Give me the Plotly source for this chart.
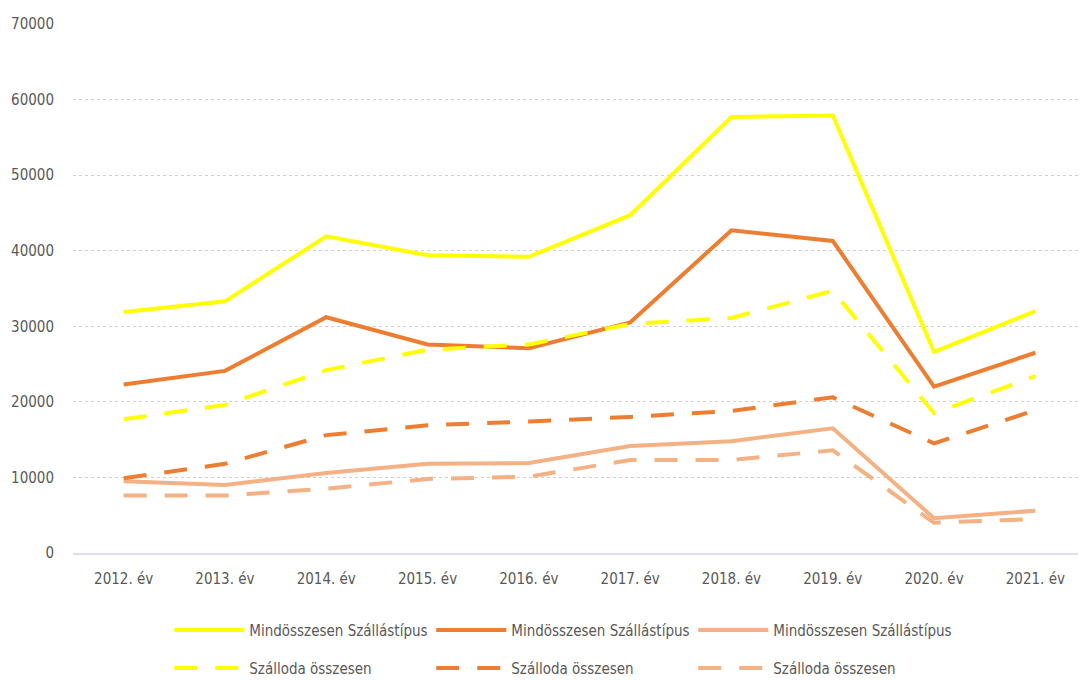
import plotly.graph_objects as go

years = ["2012. év", "2013. év", "2014. év", "2015. év", "2016. év",
         "2017. év", "2018. év", "2019. év", "2020. év", "2021. év"]

total_a = [31900, 33300, 41900, 39400, 39200, 44700, 57700, 57900, 26600, 32000]
total_b = [22300, 24100, 31200, 27600, 27100, 30500, 42700, 41300, 22000, 26500]
total_c = [9500, 9000, 10600, 11800, 11900, 14150, 14800, 16500, 4600, 5600]
hotel_a = [17700, 19600, 24200, 26900, 27600, 30300, 31100, 34700, 18500, 23400]
hotel_b = [9900, 11800, 15600, 16900, 17400, 18000, 18800, 20600, 14500, 18900]
hotel_c = [7600, 7600, 8500, 9800, 10100, 12300, 12300, 13600, 4000, 4500]

YELLOW = "#FFFF00"
ORANGE = "#ED7D31"
PEACH = "#F4B183"
TEXT = "#595959"
FONT = "DejaVu Sans Condensed, sans-serif"
DASH = "23px,18px"

# solid totals go in the first legend row, hotel dashes in the second
series = [
    ("Mindösszesen Szállástípus", total_a, YELLOW, "solid", "legend"),
    ("Mindösszesen Szállástípus", total_b, ORANGE, "solid", "legend"),
    ("Mindösszesen Szállástípus", total_c, PEACH, "solid", "legend"),
    ("Szálloda összesen", hotel_a, YELLOW, DASH, "legend2"),
    ("Szálloda összesen", hotel_b, ORANGE, DASH, "legend2"),
    ("Szálloda összesen", hotel_c, PEACH, DASH, "legend2"),
]

fig = go.Figure()
for name, vals, color, dash, leg in series:
    fig.add_trace(go.Scatter(
        x=years, y=vals, name=name, mode="lines", legend=leg,
        line=dict(color=color, width=4, dash=dash),
    ))

legend_style = dict(
    orientation="h", x=0.095, xanchor="left", yanchor="middle",
    entrywidth=177, entrywidthmode="pixels", itemwidth=70,
    font=dict(family=FONT, size=15, color=TEXT),
)

# the page body adds an 8px margin, so the figure is 8px smaller on each side
fig.update_layout(
    width=1078, height=672,
    plot_bgcolor="white", paper_bgcolor="white",
    font=dict(family=FONT, size=15, color=TEXT),
    margin=dict(l=65, r=0, t=16, b=127, autoexpand=False),
    legend=dict(legend_style, y=-0.146),
    legend2=dict(legend_style, y=-0.218),
)
fig.update_yaxes(
    range=[0, 70000], dtick=10000, showgrid=True, gridcolor="#D0D0D0",
    griddash="dot", gridwidth=1, zeroline=False, showline=False,
    ticklabelstandoff=18, tickformat="d",
)
fig.update_xaxes(
    range=[-0.5, 9.5], showgrid=False, showline=True,
    linecolor="#D9E1F2", linewidth=2, ticklabelstandoff=11,
)

fig.write_html("out.html")
